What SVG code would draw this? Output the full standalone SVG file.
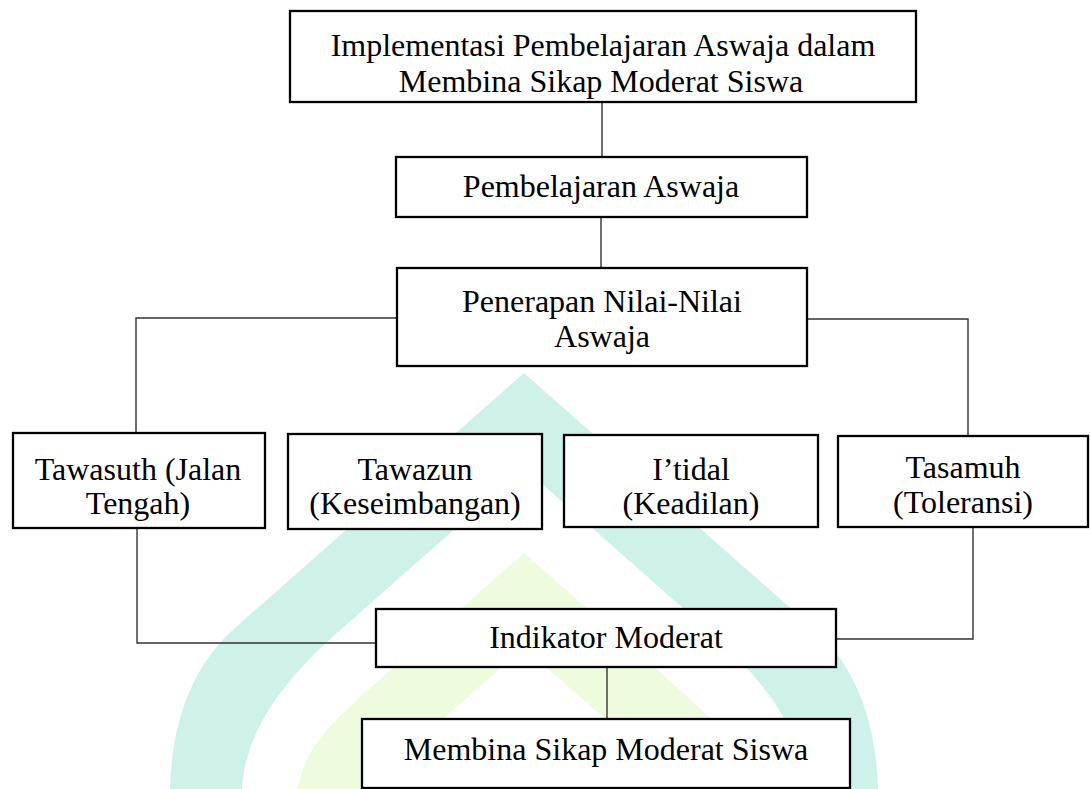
<svg xmlns="http://www.w3.org/2000/svg" width="1090" height="789" viewBox="0 0 1090 789">
<style>
.box{fill:#ffffff;stroke:#000000;stroke-width:2.3}
.lbl{font-family:"Liberation Serif","Times New Roman",serif;font-size:32px;fill:#000000;text-anchor:middle}
.con{fill:none;stroke:#333333;stroke-width:1.4}
.wm1{fill:#cef2ea;fill-rule:evenodd}
.wm2{fill:#eefcde;fill-rule:evenodd}
</style>
<rect width="1090" height="789" fill="#ffffff"/>
<g id="watermark">
<path class="wm1" d="M524,373 L236,627 C196,662 172,715 170,789 L878,789 C876,715 852,662 812,627 Z M524,468 L338,632 C290,675 246,725 242,789 L806,789 C802,725 758,675 710,632 Z"/>
<path class="wm2" d="M524,553 L368,690 C330,724 302,752 298,789 L750,789 C746,752 718,724 680,690 Z M524,648 L460,704 C430,730 410,760 408,789 L640,789 C638,760 618,730 588,704 Z"/>
</g>
<g id="connectors">
<line class="con" x1="602" y1="102" x2="602" y2="157"/>
<line class="con" x1="601" y1="217" x2="601" y2="268"/>
<polyline class="con" points="397,318 136,318 136,433"/>
<polyline class="con" points="807,319 968,319 968,436"/>
<polyline class="con" points="137,528 137,643 376,643"/>
<polyline class="con" points="973,527 973,639 836,639"/>
<line class="con" x1="607" y1="667" x2="607" y2="719"/>
</g>
<g id="n-top">
<rect class="box" x="290" y="11" width="626" height="91"/>
<text class="lbl" x="603" y="56">Implementasi Pembelajaran Aswaja dalam</text>
<text class="lbl" x="601" y="92">Membina Sikap Moderat Siswa</text>
</g>
<g id="n-pembelajaran">
<rect class="box" x="396" y="157" width="411" height="60"/>
<text class="lbl" x="601" y="197">Pembelajaran Aswaja</text>
</g>
<g id="n-penerapan">
<rect class="box" x="397" y="268" width="410" height="98"/>
<text class="lbl" x="602" y="312">Penerapan Nilai-Nilai</text>
<text class="lbl" x="602" y="347">Aswaja</text>
</g>
<g id="n-tawasuth">
<rect class="box" x="13" y="433" width="252" height="95"/>
<text class="lbl" x="138" y="480">Tawasuth (Jalan</text>
<text class="lbl" x="138" y="514">Tengah)</text>
</g>
<g id="n-tawazun">
<rect class="box" x="288" y="434" width="254" height="95"/>
<text class="lbl" x="415" y="480">Tawazun</text>
<text class="lbl" x="415" y="514">(Keseimbangan)</text>
</g>
<g id="n-itidal">
<rect class="box" x="564" y="435" width="254" height="92"/>
<text class="lbl" x="691" y="480">I’tidal</text>
<text class="lbl" x="691" y="514">(Keadilan)</text>
</g>
<g id="n-tasamuh">
<rect class="box" x="838" y="436" width="250" height="91"/>
<text class="lbl" x="963" y="478">Tasamuh</text>
<text class="lbl" x="963" y="513">(Toleransi)</text>
</g>
<g id="n-indikator">
<rect class="box" x="376" y="609" width="460" height="58"/>
<text class="lbl" x="606" y="648">Indikator Moderat</text>
</g>
<g id="n-membina">
<rect class="box" x="362" y="719" width="488" height="69"/>
<text class="lbl" x="606" y="760">Membina Sikap Moderat Siswa</text>
</g>
</svg>
